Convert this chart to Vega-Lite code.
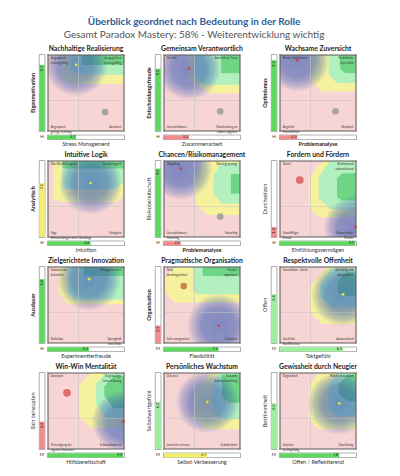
{
  "$schema": "https://vega.github.io/schema/vega-lite/v6.json",
  "padding": {"left": 31, "top": 16, "right": 0, "bottom": 0},
  "background": "white",
  "title": {
    "text": "Überblick geordnet nach Bedeutung in der Rolle",
    "subtitle": "Gesamt Paradox Mastery: 58% - Weiterentwicklung wichtig",
    "font": "Lato", "fontSize": 10, "fontWeight": "bold", "color": "#2e5e96",
    "subtitleFont": "Lato", "subtitleFontSize": 10, "subtitleColor": "#555555",
    "subtitlePadding": 3, "anchor": "middle", "offset": 6
  },
  "data": {"values": [
    {"k":"p","p":1,"xt":"Stress Management","yt":"Eigenmotivation","xf":false,"yf":true,"xv":3.7,"yv":8.7,"xr":"stark","yr":"stark","imp":"H","dc":"Zielbereich","cx":7.5,"cy":2.5,"cc":"Team","tl":"Angespannt\nleistungsfähig","tr":"Ausgeglichen\nleistungsfähig","bl":"Angespannt\ngeringe Leistung","br":"Ausruhen"},
    {"k":"p","p":2,"xt":"Zusammenarbeit","yt":"Entscheidungsfreude","xf":false,"yf":true,"xv":3.3,"yv":8.2,"xr":"schwach","yr":"stark","imp":"H","dc":"Abweichung","cx":7.4,"cy":2.6,"cc":"Team","tl":"Direktiv","tr":"Autorität im Team","bl":"Unentschlossen","br":"Entscheidung an\nandere abgeben"},
    {"k":"p","p":3,"xt":"Problemanalyse","yt":"Optimismus","xf":true,"yf":true,"xv":2.3,"yv":9.3,"xr":"schwach","yr":"stark","imp":"H","dc":"Abweichung","cx":7.3,"cy":2.6,"cc":"Team","tl":"Blinder Optimismus","tr":"Realistische\nZuversicht","bl":"Ängstlich\nPessimistisch","br":"Skeptisch"},
    {"k":"p","p":4,"xt":"Intuition","yt":"Analytisch","xf":false,"yf":true,"xv":5.6,"yv":7.1,"xr":"stark","yr":"mittel","imp":"H","dc":"Zielbereich","cx":null,"cy":null,"cc":null,"tl":"Oberflächlich logisch","tr":"Intuitiv logisch","bl":"Vage\nEntscheidungen ohne Grundlage","br":"Unlogisch"},
    {"k":"p","p":5,"xt":"Problemanalyse","yt":"Risikobereitschaft","xf":true,"yf":false,"xv":2.2,"yv":9.0,"xr":"schwach","yr":"stark","imp":"H","dc":"Abweichung","cx":7.4,"cy":2.7,"cc":"Team","tl":"Waghalsig","tr":"Überlegt gewagt","bl":"Unentschlossen\nVorsichtig","br":"Vorsichtig"},
    {"k":"p","p":6,"xt":"Einfühlungsvermögen","yt":"Durchsetzen","xf":false,"yf":false,"xv":9.9,"yv":1.3,"xr":"stark","yr":"schwach","imp":"H","dc":"Abweichung","cx":2.6,"cy":7.5,"cc":"Führung","tl":"Scharf","tr":"Bestimmend\nunterstützend","bl":"Unauffälliger\nEinsatz","br":"Übersensibler\nEinsatz"},
    {"k":"p","p":7,"xt":"Experimentierfreude","yt":"Ausdauer","xf":false,"yf":true,"xv":5.4,"yv":8.4,"xr":"stark","yr":"stark","imp":"H","dc":"Zielbereich","cx":null,"cy":null,"cc":null,"tl":"Gedankenlos\nbeharrlich","tr":"Erfolgsorientiert","bl":"Einfallslos","br":"Sprunghaft\nohne Ende"},
    {"k":"p","p":8,"xt":"Flexibilität","yt":"Organisation","xf":false,"yf":true,"xv":7.2,"yv":2.3,"xr":"stark","yr":"schwach","imp":"M","dc":"Abweichung","cx":2.6,"cy":7.5,"cc":"Kollegen","tl":"Total\ndurchorganisiert","tr":"Flexibel\norganisiert","bl":"Sehr unorganisiert","br":"Chaotisch"},
    {"k":"p","p":9,"xt":"Taktgefühl","yt":"Offen","xf":false,"yf":false,"xv":8.3,"yv":6.4,"xr":"gut","yr":"gut","imp":"M","dc":"Zielbereich","cx":null,"cy":null,"cc":null,"tl":"Unverblümt / direkt","tr":"Aufrichtig und\ndiplomatisch","bl":"Unehrlich\nKonfliktscheu","br":"Ausweichend"},
    {"k":"p","p":10,"xt":"Hilfsbereitschaft","yt":"Sich behaupten","xf":false,"yf":false,"xv":9.9,"yv":3.6,"xr":"stark","yr":"schwach","imp":"M","dc":"Abweichung","cx":2.5,"cy":7.4,"cc":"Führung","tl":"Dominant","tr":"Gegenseitige\nUnterstützung","bl":"Verteidigung der\neigenen Interessen","br":"Selbstaufopfernd"},
    {"k":"p","p":11,"xt":"Selbst-Verbesserung","yt":"Selbstwertgefühl","xf":false,"yf":false,"xv":5.7,"yv":6.2,"xr":"mittel","yr":"gut","imp":"M","dc":"Zielbereich","cx":null,"cy":null,"cc":null,"tl":"Defensiv","tr":"Gesunde\nSelbstentwicklung","bl":"Innerlich zerrissen","br":"Selbstkritisch"},
    {"k":"p","p":12,"xt":"Offen / Reflektierend","yt":"Bestimmtheit","xf":false,"yf":false,"xv":7.8,"yv":6.0,"xr":"stark","yr":"gut","imp":"M","dc":"Zielbereich","cx":null,"cy":null,"cc":null,"tl":"Dogmatisch","tr":"Wahrheitssuchend","bl":"Unsicher\nLeichtgläubig","br":"Unschlüssig"},

    {"k":"z","p":1,"z":"gelb","x":1.8,"lo":7.2,"hi":10},{"k":"z","p":1,"z":"gelb","x":2.8,"lo":6.2,"hi":10},{"k":"z","p":1,"z":"gelb","x":10,"lo":6.2,"hi":10},
    {"k":"z","p":1,"z":"hell","x":3.0,"lo":8.2,"hi":10},{"k":"z","p":1,"z":"hell","x":3.8,"lo":7.4,"hi":10},{"k":"z","p":1,"z":"hell","x":10,"lo":7.4,"hi":10},
    {"k":"z","p":1,"z":"dunkel","x":4.5,"lo":8.7,"hi":10},{"k":"z","p":1,"z":"dunkel","x":10,"lo":8.7,"hi":10},
    {"k":"z","p":2,"z":"gelb","x":3.3,"lo":6.7,"hi":10},{"k":"z","p":2,"z":"gelb","x":5.9,"lo":5.0,"hi":10},{"k":"z","p":2,"z":"gelb","x":10,"lo":5.0,"hi":10},
    {"k":"z","p":2,"z":"hell","x":3.9,"lo":7.4,"hi":10},{"k":"z","p":2,"z":"hell","x":5.2,"lo":6.1,"hi":10},{"k":"z","p":2,"z":"hell","x":10,"lo":6.1,"hi":10},
    {"k":"z","p":2,"z":"dunkel","x":7.5,"lo":7.6,"hi":10},{"k":"z","p":2,"z":"dunkel","x":10,"lo":7.6,"hi":10},
    {"k":"z","p":3,"z":"gelb","x":4.2,"lo":6.5,"hi":10},{"k":"z","p":3,"z":"gelb","x":5.5,"lo":5.2,"hi":10},{"k":"z","p":3,"z":"gelb","x":10,"lo":5.2,"hi":10},
    {"k":"z","p":3,"z":"hell","x":6.4,"lo":7.4,"hi":10},{"k":"z","p":3,"z":"hell","x":7.5,"lo":6.3,"hi":10},{"k":"z","p":3,"z":"hell","x":10,"lo":6.3,"hi":10},
    {"k":"z","p":3,"z":"dunkel","x":7.9,"lo":8.2,"hi":10},{"k":"z","p":3,"z":"dunkel","x":8.6,"lo":7.6,"hi":10},{"k":"z","p":3,"z":"dunkel","x":10,"lo":7.6,"hi":10},
    {"k":"z","p":4,"z":"gelb","x":0.7,"lo":5.1,"hi":10},{"k":"z","p":4,"z":"gelb","x":1.6,"lo":4.6,"hi":10},{"k":"z","p":4,"z":"gelb","x":9.0,"lo":4.6,"hi":10},{"k":"z","p":4,"z":"gelb","x":10,"lo":5.4,"hi":10},
    {"k":"z","p":4,"z":"hell","x":1.9,"lo":6.3,"hi":10},{"k":"z","p":4,"z":"hell","x":8.9,"lo":6.3,"hi":10},{"k":"z","p":4,"z":"hell","x":10,"lo":7.4,"hi":10},
    {"k":"z","p":4,"z":"dunkel","x":1.9,"lo":9.0,"hi":10},{"k":"z","p":4,"z":"dunkel","x":10,"lo":9.0,"hi":10},
    {"k":"z","p":5,"z":"gelb","x":4.1,"lo":4.4,"hi":8.3},{"k":"z","p":5,"z":"gelb","x":5.3,"lo":3.3,"hi":10},{"k":"z","p":5,"z":"gelb","x":5.7,"lo":2.9,"hi":10},{"k":"z","p":5,"z":"gelb","x":10,"lo":2.9,"hi":10},
    {"k":"z","p":5,"z":"hell","x":6.5,"lo":5.7,"hi":8.1},{"k":"z","p":5,"z":"hell","x":7.6,"lo":4.4,"hi":9.7},{"k":"z","p":5,"z":"hell","x":10,"lo":4.4,"hi":9.7},
    {"k":"z","p":5,"z":"dunkel","x":8.8,"lo":5.7,"hi":8.3},{"k":"z","p":5,"z":"dunkel","x":10,"lo":5.7,"hi":8.3},
    {"k":"z","p":6,"z":"gelb","x":3.8,"lo":4.0,"hi":7.7},{"k":"z","p":6,"z":"gelb","x":5.1,"lo":2.6,"hi":9.4},{"k":"z","p":6,"z":"gelb","x":5.8,"lo":2.6,"hi":10},{"k":"z","p":6,"z":"gelb","x":10,"lo":2.6,"hi":10},
    {"k":"z","p":6,"z":"hell","x":5.1,"lo":5.1,"hi":7.9},{"k":"z","p":6,"z":"hell","x":6.6,"lo":3.7,"hi":10},{"k":"z","p":6,"z":"hell","x":10,"lo":3.7,"hi":10},
    {"k":"z","p":6,"z":"dunkel","x":7.5,"lo":5.2,"hi":7.7},{"k":"z","p":6,"z":"dunkel","x":8.2,"lo":4.8,"hi":8.4},{"k":"z","p":6,"z":"dunkel","x":10,"lo":4.8,"hi":8.4},
    {"k":"z","p":7,"z":"gelb","x":1.4,"lo":6.6,"hi":10},{"k":"z","p":7,"z":"gelb","x":2.7,"lo":5.1,"hi":10},{"k":"z","p":7,"z":"gelb","x":10,"lo":5.1,"hi":10},
    {"k":"z","p":7,"z":"hell","x":2.7,"lo":6.6,"hi":10},{"k":"z","p":7,"z":"hell","x":3.6,"lo":5.7,"hi":10},{"k":"z","p":7,"z":"hell","x":10,"lo":5.7,"hi":10},
    {"k":"z","p":7,"z":"dunkel","x":4.7,"lo":8.8,"hi":10},{"k":"z","p":7,"z":"dunkel","x":10,"lo":8.8,"hi":10},
    {"k":"z","p":8,"z":"gelb","x":0.2,"lo":6.6,"hi":8.6},{"k":"z","p":8,"z":"gelb","x":1.3,"lo":5.4,"hi":10},{"k":"z","p":8,"z":"gelb","x":1.6,"lo":5.3,"hi":10},{"k":"z","p":8,"z":"gelb","x":10,"lo":5.3,"hi":10},
    {"k":"z","p":8,"z":"hell","x":3.8,"lo":7.0,"hi":10},{"k":"z","p":8,"z":"hell","x":4.4,"lo":6.4,"hi":10},{"k":"z","p":8,"z":"hell","x":10,"lo":6.4,"hi":10},
    {"k":"z","p":8,"z":"dunkel","x":5.1,"lo":8.8,"hi":10},{"k":"z","p":8,"z":"dunkel","x":10,"lo":8.8,"hi":10},
    {"k":"z","p":9,"z":"gelb","x":3.9,"lo":4.1,"hi":7.4},{"k":"z","p":9,"z":"gelb","x":5.5,"lo":2.5,"hi":9.2},{"k":"z","p":9,"z":"gelb","x":6.2,"lo":2.5,"hi":10},{"k":"z","p":9,"z":"gelb","x":10,"lo":2.5,"hi":10},
    {"k":"z","p":9,"z":"hell","x":5.3,"lo":6.0,"hi":7.8},{"k":"z","p":9,"z":"hell","x":6.9,"lo":4.7,"hi":9.8},{"k":"z","p":9,"z":"hell","x":10,"lo":4.7,"hi":9.8},
    {"k":"z","p":9,"z":"dunkel","x":7.6,"lo":6.6,"hi":8.2},{"k":"z","p":9,"z":"dunkel","x":8.7,"lo":6.2,"hi":9.3},{"k":"z","p":9,"z":"dunkel","x":10,"lo":6.2,"hi":9.3},
    {"k":"z","p":10,"z":"gelb","x":4.1,"lo":4.3,"hi":8.3},{"k":"z","p":10,"z":"gelb","x":5.6,"lo":2.8,"hi":10},{"k":"z","p":10,"z":"gelb","x":10,"lo":2.8,"hi":10},
    {"k":"z","p":10,"z":"hell","x":6.3,"lo":6.0,"hi":8.6},{"k":"z","p":10,"z":"hell","x":7.6,"lo":4.1,"hi":10},{"k":"z","p":10,"z":"hell","x":10,"lo":4.1,"hi":10},
    {"k":"z","p":10,"z":"dunkel","x":7.4,"lo":7.0,"hi":8.2},{"k":"z","p":10,"z":"dunkel","x":8.6,"lo":5.4,"hi":9.6},{"k":"z","p":10,"z":"dunkel","x":10,"lo":5.4,"hi":9.6},
    {"k":"z","p":11,"z":"gelb","x":3.9,"lo":4.3,"hi":7.4},{"k":"z","p":11,"z":"gelb","x":5.5,"lo":2.6,"hi":9.3},{"k":"z","p":11,"z":"gelb","x":6.1,"lo":2.6,"hi":10},{"k":"z","p":11,"z":"gelb","x":10,"lo":2.6,"hi":10},
    {"k":"z","p":11,"z":"hell","x":6.4,"lo":5.0,"hi":8.7},{"k":"z","p":11,"z":"hell","x":7.3,"lo":3.9,"hi":10},{"k":"z","p":11,"z":"hell","x":10,"lo":3.9,"hi":10},
    {"k":"z","p":11,"z":"dunkel","x":7.6,"lo":7.0,"hi":9.8},{"k":"z","p":11,"z":"dunkel","x":8.5,"lo":6.1,"hi":9.8},{"k":"z","p":11,"z":"dunkel","x":10,"lo":6.1,"hi":9.8},
    {"k":"z","p":12,"z":"gelb","x":3.8,"lo":3.9,"hi":8.3},{"k":"z","p":12,"z":"gelb","x":5.1,"lo":2.6,"hi":10},{"k":"z","p":12,"z":"gelb","x":10,"lo":2.6,"hi":10},
    {"k":"z","p":12,"z":"hell","x":6.4,"lo":5.4,"hi":8.5},{"k":"z","p":12,"z":"hell","x":7.5,"lo":4.3,"hi":10},{"k":"z","p":12,"z":"hell","x":10,"lo":4.3,"hi":10},
    {"k":"z","p":12,"z":"dunkel","x":7.7,"lo":7.2,"hi":8.5},{"k":"z","p":12,"z":"dunkel","x":9.0,"lo":6.3,"hi":9.8},{"k":"z","p":12,"z":"dunkel","x":10,"lo":6.3,"hi":9.8}
  ]},
  "facet": {"field": "p", "type": "ordinal", "header": {"title": null, "labelFont": "Lato", "labelFontWeight": "bold", "labelFontSize": 6.8, "labelPadding": 2, "labelColor": "#1e1e1e",
    "labelExpr": "['Nachhaltige Realisierung','Gemeinsam Verantwortlich','Wachsame Zuversicht','Intuitive Logik','Chancen/Risikomanagement','Fordern und Fördern','Zielgerichtete Innovation','Pragmatische Organisation','Respektvolle Offenheit','Win-Win Mentalität','Persönliches Wachstum','Gewissheit durch Neugier'][datum.value - 1]"}},
  "columns": 3,
  "bounds": "flush",
  "spacing": {"row": 30, "column": 40},
  "spec": {
    "width": 76,
    "height": 76,
    "layer": [
      {"transform": [{"filter": "datum.k === 'p'"}],
       "mark": {"type": "rect", "fill": "#f8d5d5"},
       "encoding": {
         "x": {"datum": 0, "type": "quantitative", "scale": {"domain": [0, 10], "nice": false, "zero": false}, "axis": null},
         "x2": {"datum": 10},
         "y": {"datum": 0, "type": "quantitative", "scale": {"domain": [0, 10], "nice": false, "zero": false}, "axis": null},
         "y2": {"datum": 10}}},
      {"transform": [{"filter": "datum.k === 'z' && datum.z === 'gelb'"}],
       "mark": {"type": "area", "orient": "vertical", "color": "#f5f19d", "opacity": 1},
       "encoding": {"x": {"field": "x", "type": "quantitative", "axis": null}, "y": {"field": "lo", "type": "quantitative", "axis": null}, "y2": {"field": "hi"}}},
      {"transform": [{"filter": "datum.k === 'z' && datum.z === 'hell'"}],
       "mark": {"type": "area", "orient": "vertical", "color": "#b3f0c0", "opacity": 1},
       "encoding": {"x": {"field": "x", "type": "quantitative", "axis": null}, "y": {"field": "lo", "type": "quantitative", "axis": null}, "y2": {"field": "hi"}}},
      {"transform": [{"filter": "datum.k === 'z' && datum.z === 'dunkel'"}],
       "mark": {"type": "area", "orient": "vertical", "color": "#6fd585", "opacity": 1},
       "encoding": {"x": {"field": "x", "type": "quantitative", "axis": null}, "y": {"field": "lo", "type": "quantitative", "axis": null}, "y2": {"field": "hi"}}},
      {"transform": [{"filter": "datum.k === 'p'"}],
       "mark": {"type": "point", "shape": "circle", "filled": true, "size": 4000, "clip": true, "opacity": 1, "strokeWidth": 0,
         "fill": {"gradient": "radial", "x1": 0.5, "y1": 0.5, "r1": 0, "x2": 0.5, "y2": 0.5, "r2": 0.5,
           "stops": [
             {"offset": 0, "color": "rgba(55,90,178,0.62)"},
             {"offset": 0.55, "color": "rgba(55,90,178,0.55)"},
             {"offset": 0.8, "color": "rgba(55,90,178,0.3)"},
             {"offset": 1, "color": "rgba(55,90,178,0)"}]}},
       "encoding": {"x": {"field": "xv", "type": "quantitative", "axis": null}, "y": {"field": "yv", "type": "quantitative", "axis": null}}},

      {"transform": [{"filter": "datum.k === 'p'"}],
       "mark": {"type": "rect", "fill": "#c4c4c4"},
       "encoding": {"x": {"datum": 3.97, "type": "quantitative", "axis": null}, "x2": {"datum": 4.05}, "y": {"datum": 0, "type": "quantitative", "axis": null}, "y2": {"datum": 10}}},
      {"transform": [{"filter": "datum.k === 'p'"}],
       "mark": {"type": "rect", "fill": "#c4c4c4"},
       "encoding": {"x": {"datum": 0, "type": "quantitative", "axis": null}, "x2": {"datum": 10}, "y": {"datum": 3.97, "type": "quantitative", "axis": null}, "y2": {"datum": 4.05}}},

      {"transform": [{"filter": "datum.k === 'p' && datum.cc === 'Team'"}],
       "mark": {"type": "point", "shape": "circle", "filled": true, "size": 45, "opacity": 0.85, "fill": "#9a9a9a"},
       "encoding": {"x": {"field": "cx", "type": "quantitative", "axis": null}, "y": {"field": "cy", "type": "quantitative", "axis": null}}},
      {"transform": [{"filter": "datum.k === 'p' && datum.cc === 'Führung'"}],
       "mark": {"type": "point", "shape": "circle", "filled": true, "size": 60, "opacity": 0.9, "fill": "#d9605f"},
       "encoding": {"x": {"field": "cx", "type": "quantitative", "axis": null}, "y": {"field": "cy", "type": "quantitative", "axis": null}}},
      {"transform": [{"filter": "datum.k === 'p' && datum.cc === 'Kollegen'"}],
       "mark": {"type": "point", "shape": "circle", "filled": true, "size": 45, "opacity": 0.9, "fill": "#c27a3c"},
       "encoding": {"x": {"field": "cx", "type": "quantitative", "axis": null}, "y": {"field": "cy", "type": "quantitative", "axis": null}}},
      {"transform": [{"filter": "datum.k === 'p' && datum.dc === 'Zielbereich'"}],
       "mark": {"type": "point", "shape": "circle", "filled": true, "size": 7, "opacity": 1, "fill": "#e4e83a"},
       "encoding": {"x": {"field": "xv", "type": "quantitative", "axis": null}, "y": {"field": "yv", "type": "quantitative", "axis": null}}},
      {"transform": [{"filter": "datum.k === 'p' && datum.dc === 'Abweichung'"}],
       "mark": {"type": "point", "shape": "circle", "filled": true, "size": 7, "opacity": 1, "fill": "#e03a3a"},
       "encoding": {"x": {"field": "xv", "type": "quantitative", "axis": null}, "y": {"field": "yv", "type": "quantitative", "axis": null}}},

      {"transform": [{"filter": "datum.k === 'p'"}],
       "mark": {"type": "rect", "fill": "#5a5a5a"},
       "encoding": {"x": {"datum": -0.07, "type": "quantitative", "axis": null}, "x2": {"datum": 0.07}, "y": {"datum": -0.07, "type": "quantitative", "axis": null}, "y2": {"datum": 10.07}}},
      {"transform": [{"filter": "datum.k === 'p'"}],
       "mark": {"type": "rect", "fill": "#5a5a5a"},
       "encoding": {"x": {"datum": 9.93, "type": "quantitative", "axis": null}, "x2": {"datum": 10.07}, "y": {"datum": -0.07, "type": "quantitative", "axis": null}, "y2": {"datum": 10.07}}},
      {"transform": [{"filter": "datum.k === 'p'"}],
       "mark": {"type": "rect", "fill": "#5a5a5a"},
       "encoding": {"x": {"datum": -0.07, "type": "quantitative", "axis": null}, "x2": {"datum": 10.07}, "y": {"datum": -0.07, "type": "quantitative", "axis": null}, "y2": {"datum": 0.07}}},
      {"transform": [{"filter": "datum.k === 'p'"}],
       "mark": {"type": "rect", "fill": "#5a5a5a"},
       "encoding": {"x": {"datum": -0.07, "type": "quantitative", "axis": null}, "x2": {"datum": 10.07}, "y": {"datum": 9.93, "type": "quantitative", "axis": null}, "y2": {"datum": 10.07}}},

      {"transform": [{"filter": "datum.k === 'p'"}],
       "mark": {"type": "rect", "fill": "#6a6a6a"},
       "encoding": {"x": {"datum": -1.2, "type": "quantitative", "axis": null}, "x2": {"datum": -0.36}, "y": {"datum": -0.07, "type": "quantitative", "axis": null}, "y2": {"datum": 10.07}}},
      {"transform": [{"filter": "datum.k === 'p'"}],
       "mark": {"type": "rect", "fill": "white"},
       "encoding": {"x": {"datum": -1.13, "type": "quantitative", "axis": null}, "x2": {"datum": -0.43}, "y": {"datum": 0, "type": "quantitative", "axis": null}, "y2": {"datum": 10}}},
      {"transform": [{"filter": "datum.k === 'p' && datum.yr === 'stark'"}, {"calculate": "0", "as": "basis"}],
       "mark": {"type": "rect", "fill": "#5ed85e"},
       "encoding": {"x": {"datum": -1.13, "type": "quantitative", "axis": null}, "x2": {"datum": -0.43}, "y": {"field": "basis", "type": "quantitative", "axis": null}, "y2": {"field": "yv"}}},
      {"transform": [{"filter": "datum.k === 'p' && datum.yr === 'gut'"}, {"calculate": "0", "as": "basis"}],
       "mark": {"type": "rect", "fill": "#9cef9c"},
       "encoding": {"x": {"datum": -1.13, "type": "quantitative", "axis": null}, "x2": {"datum": -0.43}, "y": {"field": "basis", "type": "quantitative", "axis": null}, "y2": {"field": "yv"}}},
      {"transform": [{"filter": "datum.k === 'p' && datum.yr === 'mittel'"}, {"calculate": "0", "as": "basis"}],
       "mark": {"type": "rect", "fill": "#f3ef6e"},
       "encoding": {"x": {"datum": -1.13, "type": "quantitative", "axis": null}, "x2": {"datum": -0.43}, "y": {"field": "basis", "type": "quantitative", "axis": null}, "y2": {"field": "yv"}}},
      {"transform": [{"filter": "datum.k === 'p' && datum.yr === 'schwach'"}, {"calculate": "0", "as": "basis"}],
       "mark": {"type": "rect", "fill": "#f28c8c"},
       "encoding": {"x": {"datum": -1.13, "type": "quantitative", "axis": null}, "x2": {"datum": -0.43}, "y": {"field": "basis", "type": "quantitative", "axis": null}, "y2": {"field": "yv"}}},

      {"transform": [{"filter": "datum.k === 'p'"}],
       "mark": {"type": "rect", "fill": "#6a6a6a"},
       "encoding": {"x": {"datum": -0.07, "type": "quantitative", "axis": null}, "x2": {"datum": 10.07}, "y": {"datum": -1.2, "type": "quantitative", "axis": null}, "y2": {"datum": -0.5}}},
      {"transform": [{"filter": "datum.k === 'p'"}],
       "mark": {"type": "rect", "fill": "white"},
       "encoding": {"x": {"datum": 0, "type": "quantitative", "axis": null}, "x2": {"datum": 10}, "y": {"datum": -1.13, "type": "quantitative", "axis": null}, "y2": {"datum": -0.57}}},
      {"transform": [{"filter": "datum.k === 'p' && datum.xr === 'stark'"}, {"calculate": "0", "as": "basis"}],
       "mark": {"type": "rect", "fill": "#5ed85e"},
       "encoding": {"x": {"field": "basis", "type": "quantitative", "axis": null}, "x2": {"field": "xv"}, "y": {"datum": -1.13, "type": "quantitative", "axis": null}, "y2": {"datum": -0.57}}},
      {"transform": [{"filter": "datum.k === 'p' && datum.xr === 'gut'"}, {"calculate": "0", "as": "basis"}],
       "mark": {"type": "rect", "fill": "#9cef9c"},
       "encoding": {"x": {"field": "basis", "type": "quantitative", "axis": null}, "x2": {"field": "xv"}, "y": {"datum": -1.13, "type": "quantitative", "axis": null}, "y2": {"datum": -0.57}}},
      {"transform": [{"filter": "datum.k === 'p' && datum.xr === 'mittel'"}, {"calculate": "0", "as": "basis"}],
       "mark": {"type": "rect", "fill": "#f3ef6e"},
       "encoding": {"x": {"field": "basis", "type": "quantitative", "axis": null}, "x2": {"field": "xv"}, "y": {"datum": -1.13, "type": "quantitative", "axis": null}, "y2": {"datum": -0.57}}},
      {"transform": [{"filter": "datum.k === 'p' && datum.xr === 'schwach'"}, {"calculate": "0", "as": "basis"}],
       "mark": {"type": "rect", "fill": "#f28c8c"},
       "encoding": {"x": {"field": "basis", "type": "quantitative", "axis": null}, "x2": {"field": "xv"}, "y": {"datum": -1.13, "type": "quantitative", "axis": null}, "y2": {"datum": -0.57}}},

      {"transform": [{"filter": "datum.k === 'p'"}],
       "mark": {"type": "text", "angle": 270, "align": "right", "baseline": "middle", "dx": -1, "fontSize": 3.8, "color": "#222222", "font": "Lato"},
       "encoding": {"x": {"datum": -0.78, "type": "quantitative", "axis": null}, "y": {"field": "yv", "type": "quantitative", "axis": null}, "text": {"field": "yv", "type": "quantitative", "format": ".1f"}}},
      {"transform": [{"filter": "datum.k === 'p'"}],
       "mark": {"type": "text", "align": "right", "baseline": "middle", "dx": -1, "fontSize": 3.8, "color": "#222222", "font": "Lato"},
       "encoding": {"x": {"field": "xv", "type": "quantitative", "axis": null}, "y": {"datum": -0.85, "type": "quantitative", "axis": null}, "text": {"field": "xv", "type": "quantitative", "format": ".1f"}}},
      {"transform": [{"filter": "datum.k === 'p'"}],
       "mark": {"type": "text", "align": "center", "baseline": "middle", "fontSize": 4.5, "color": "#333333", "font": "Lato"},
       "encoding": {"x": {"datum": -0.8, "type": "quantitative", "axis": null}, "y": {"datum": -0.85, "type": "quantitative", "axis": null}, "text": {"field": "imp", "type": "nominal"}}},

      {"transform": [{"filter": "datum.k === 'p' && datum.xf"}],
       "mark": {"type": "text", "align": "center", "baseline": "middle", "fontSize": 5.5, "fontWeight": "bold", "color": "#222222", "font": "Lato"},
       "encoding": {"x": {"datum": 5, "type": "quantitative", "axis": null}, "y": {"datum": -1.68, "type": "quantitative", "axis": null}, "text": {"field": "xt", "type": "nominal"}}},
      {"transform": [{"filter": "datum.k === 'p' && !datum.xf"}],
       "mark": {"type": "text", "align": "center", "baseline": "middle", "fontSize": 5.5, "color": "#333333", "font": "Lato"},
       "encoding": {"x": {"datum": 5, "type": "quantitative", "axis": null}, "y": {"datum": -1.68, "type": "quantitative", "axis": null}, "text": {"field": "xt", "type": "nominal"}}},
      {"transform": [{"filter": "datum.k === 'p' && datum.yf"}],
       "mark": {"type": "text", "angle": 270, "align": "center", "baseline": "middle", "fontSize": 5.5, "fontWeight": "bold", "color": "#222222", "font": "Lato"},
       "encoding": {"x": {"datum": -1.95, "type": "quantitative", "axis": null}, "y": {"datum": 5, "type": "quantitative", "axis": null}, "text": {"field": "yt", "type": "nominal"}}},
      {"transform": [{"filter": "datum.k === 'p' && !datum.yf"}],
       "mark": {"type": "text", "angle": 270, "align": "center", "baseline": "middle", "fontSize": 5.5, "color": "#333333", "font": "Lato"},
       "encoding": {"x": {"datum": -1.95, "type": "quantitative", "axis": null}, "y": {"datum": 5, "type": "quantitative", "axis": null}, "text": {"field": "yt", "type": "nominal"}}},

      {"transform": [{"filter": "datum.k === 'p'"}],
       "mark": {"type": "text", "align": "left", "baseline": "top", "fontSize": 2.9, "color": "#333333", "font": "Lato", "lineBreak": "\n"},
       "encoding": {"x": {"datum": 0.35, "type": "quantitative", "axis": null}, "y": {"datum": 9.7, "type": "quantitative", "axis": null}, "text": {"field": "tl", "type": "nominal"}}},
      {"transform": [{"filter": "datum.k === 'p'"}],
       "mark": {"type": "text", "align": "right", "baseline": "top", "fontSize": 2.9, "color": "#333333", "font": "Lato", "lineBreak": "\n"},
       "encoding": {"x": {"datum": 9.65, "type": "quantitative", "axis": null}, "y": {"datum": 9.7, "type": "quantitative", "axis": null}, "text": {"field": "tr", "type": "nominal"}}},
      {"transform": [{"filter": "datum.k === 'p'"}],
       "mark": {"type": "text", "align": "left", "baseline": "bottom", "fontSize": 2.9, "color": "#333333", "font": "Lato", "lineBreak": "\n"},
       "encoding": {"x": {"datum": 0.35, "type": "quantitative", "axis": null}, "y": {"datum": 0.3, "type": "quantitative", "axis": null}, "text": {"field": "bl", "type": "nominal"}}},
      {"transform": [{"filter": "datum.k === 'p'"}],
       "mark": {"type": "text", "align": "right", "baseline": "bottom", "fontSize": 2.9, "color": "#333333", "font": "Lato", "lineBreak": "\n"},
       "encoding": {"x": {"datum": 9.65, "type": "quantitative", "axis": null}, "y": {"datum": 0.3, "type": "quantitative", "axis": null}, "text": {"field": "br", "type": "nominal"}}}
    ]
  },
  "config": {"view": {"stroke": null}, "font": "Lato"}
}
